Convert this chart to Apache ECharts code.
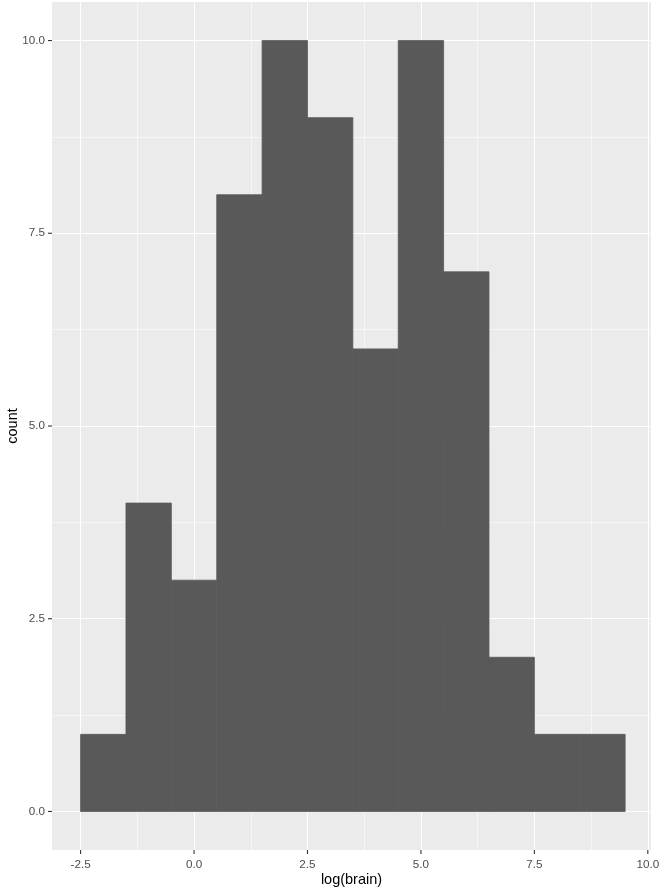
<!DOCTYPE html>
<html>
<head>
<meta charset="utf-8">
<script src="https://cdn.jsdelivr.net/npm/echarts@6/dist/echarts.min.js"></script>
<style>html,body{margin:0;padding:0;background:#fff;}#c{width:659px;height:887px;}</style>
</head>
<body>
<div id="c"></div>
<script>
// Histogram of log(brain): bin edges and counts
var binStarts = [-2.5, -1.5, -0.5, 0.5, 1.5, 2.5, 3.5, 4.5, 5.5, 6.5, 7.5, 8.5];
var binEnds   = [-1.5, -0.5, 0.5, 1.5, 2.5, 3.5, 4.5, 5.5, 6.5, 7.5, 8.5, 9.5];
var counts    = [1, 4, 3, 8, 10, 9, 6, 10, 7, 2, 1, 1];
var xTicks = [-2.5, 0, 2.5, 5, 7.5, 10];
var xMinor = [-1.25, 1.25, 3.75, 6.25, 8.75];
var yTicks = [0, 2.5, 5, 7.5, 10];
var yMinor = [1.25, 3.75, 6.25, 8.75];

var barData = binStarts.map(function (s, i) { return [s, binEnds[i], counts[i]]; });
var X_MIN = -3.13, X_MAX = 10.07, Y_MIN = -0.5, Y_MAX = 10.5;
var tickData = xTicks.map(function (v) { return [v, Y_MIN, 0]; })
  .concat(yTicks.map(function (v) { return [X_MIN, v, 1]; }));

var chart = echarts.init(document.getElementById('c'), null, {renderer: 'canvas'});
var font = '"Liberation Sans", Arial, sans-serif';
var majorLines = xTicks.map(function (v) { return {xAxis: v, lineStyle: {width: 1.1}}; })
  .concat(yTicks.map(function (v) { return {yAxis: v, lineStyle: {width: 1.1}}; }));
var minorLines = xMinor.map(function (v) { return {xAxis: v, lineStyle: {width: 0.55}}; })
  .concat(yMinor.map(function (v) { return {yAxis: v, lineStyle: {width: 0.55}}; }));

chart.setOption({
  animation: false,
  grid: {left: 52, right: 8, top: 2, bottom: 37, show: true, backgroundColor: '#EBEBEB', borderWidth: 0,
    containLabel: false, outerBoundsMode: 'none'},
  xAxis: {
    type: 'value', min: X_MIN, max: X_MAX,
    name: 'log(brain)', nameLocation: 'middle', nameGap: 22, nameMoveOverlap: false,
    nameTextStyle: {color: '#000', fontSize: 14.5, fontFamily: font},
    axisLine: {show: false},
    splitLine: {show: false},
    axisTick: {show: false},
    axisLabel: {customValues: xTicks, color: '#4D4D4D', fontSize: 11.7, fontFamily: font, margin: 9,
      formatter: function (v) { return v.toFixed(1); }}
  },
  yAxis: {
    type: 'value', min: Y_MIN, max: Y_MAX,
    name: 'count', nameLocation: 'middle', nameGap: 32, nameRotate: 90, nameMoveOverlap: false,
    nameTextStyle: {color: '#000', fontSize: 14.5, fontFamily: font},
    axisLine: {show: false},
    splitLine: {show: false},
    axisTick: {show: false},
    axisLabel: {customValues: yTicks, color: '#4D4D4D', fontSize: 11.7, fontFamily: font, margin: 7,
      formatter: function (v) { return v.toFixed(1); }}
  },
  series: [
    {
      type: 'line', data: [], z: 1, silent: true,
      markLine: {silent: true, z: 1, symbol: 'none', label: {show: false}, animation: false,
        lineStyle: {color: '#FFFFFF', type: 'solid'}, data: minorLines.concat(majorLines)}
    },
    {
      type: 'custom', z: 10, data: barData, silent: true,
      encode: {x: [0, 1], y: 2},
      renderItem: function (params, api) {
        var p0 = api.coord([api.value(0), api.value(2)]);
        var p1 = api.coord([api.value(1), 0]);
        return {type: 'rect', shape: {x: p0[0], y: p0[1], width: p1[0] - p0[0], height: p1[1] - p0[1]},
          style: {fill: '#595959', stroke: '#595959', lineWidth: 0.8}};
      }
    },
    {
      type: 'custom', z: 10, data: tickData, clip: false, silent: true,
      encode: {x: 0, y: 1},
      renderItem: function (params, api) {
        var p = api.coord([api.value(0), api.value(1)]);
        var vertical = api.value(2) === 0;
        var shape = vertical ? {x1: p[0], y1: p[1], x2: p[0], y2: p[1] + 4}
                             : {x1: p[0], y1: p[1], x2: p[0] - 4, y2: p[1]};
        return {type: 'line', shape: shape, style: {stroke: '#333333', lineWidth: 1.1}};
      }
    }
  ]
});
</script>
</body>
</html>
